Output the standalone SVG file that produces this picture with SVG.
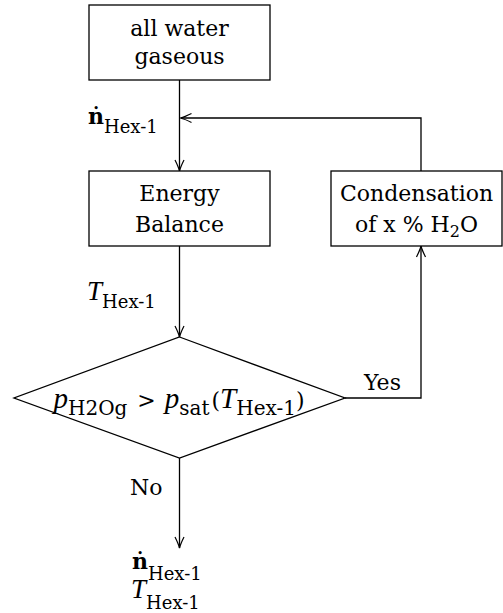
<svg xmlns="http://www.w3.org/2000/svg" width="503" height="613" viewBox="0 0 503 613">
<defs>
<marker id="arr" markerUnits="userSpaceOnUse" markerWidth="16" markerHeight="12" viewBox="-13 -6 16 12" refX="0" refY="0" orient="auto">
<path d="M-11,-4.5 Q-4,-1 0,0 Q-4,1 -11,4.5" fill="none" stroke="#000" stroke-width="1.2"/>
</marker>
</defs>
<style>
.box{fill:#fff;stroke:#000;stroke-width:1.3}
text{font-family:'DejaVu Serif','Liberation Serif',serif;font-size:22px;fill:#000}
.c{text-anchor:middle}
.i{font-family:'Liberation Serif','DejaVu Serif',serif;font-style:italic;font-size:27px}
.s{font-size:18px}
.d .i{font-size:29px}
.d .s{font-size:20px}
.con{fill:none;stroke:#000;stroke-width:1.3;marker-end:url(#arr)}
</style>
<g id="connectors">
<path class="con" d="M179.5,80 V171"/>
<path class="con" d="M421,171 V118 H180.5"/>
<path class="con" d="M179.5,246 V337"/>
<path class="con" d="M345,398 H421 V246"/>
<path class="con" d="M179.5,458 V548"/>
</g>
<g id="start">
<rect class="box" x="89" y="5" width="181" height="75"/>
<text class="c" x="179.5" y="36">all water</text>
<text class="c" x="179.5" y="64">gaseous</text>
</g>
<g id="energy">
<rect class="box" x="89" y="171" width="181" height="75"/>
<text class="c" x="179.5" y="201">Energy</text>
<text class="c" x="179.5" y="232">Balance</text>
</g>
<g id="condensation">
<rect class="box" x="331" y="171" width="171" height="75"/>
<text class="c" x="416.5" y="201">Condensation</text>
<text class="c" x="416.5" y="232">of x % H<tspan font-size="16" dy="5">2</tspan><tspan dy="-5">O</tspan></text>
</g>
<g id="decision">
<polygon class="box" points="179.5,337 345,398 179.5,458 14,398"/>
<text class="c d" x="179" y="408"><tspan class="i">p</tspan><tspan class="s" dy="7">H2Og</tspan><tspan dy="-7" dx="3"> &gt; </tspan><tspan class="i" dx="2">p</tspan><tspan class="s" dy="7">sat</tspan><tspan dy="-7" dx="2">(</tspan><tspan class="i">T</tspan><tspan class="s" dy="7">Hex-1</tspan><tspan dy="-7">)</tspan></text>
</g>
<g id="labels">
<text x="88" y="124"><tspan font-weight="bold">ṅ</tspan><tspan class="s" dy="9">Hex-1</tspan></text>
<text x="87" y="300"><tspan class="i">T</tspan><tspan class="s" dy="8">Hex-1</tspan></text>
<text x="364" y="390">Yes</text>
<text x="130" y="495">No</text>
<text x="132" y="569"><tspan font-weight="bold">ṅ</tspan><tspan class="s" dy="11">Hex-1</tspan></text>
<text x="131" y="598"><tspan class="i">T</tspan><tspan class="s" dy="11">Hex-1</tspan></text>
</g>
</svg>
